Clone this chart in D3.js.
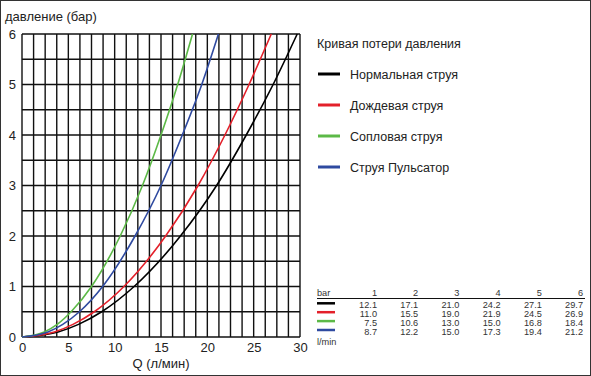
<!DOCTYPE html>
<html lang="ru">
<head>
<meta charset="UTF-8">
<title>Кривая потери давления</title>
<style>
  body { margin: 0; background: #fff; }
  svg text { font-family: "Liberation Sans", Arial, sans-serif; fill: #222; }
  .grid line { stroke: #111; stroke-width: 1.4px; }
  .curve { fill: none; stroke-width: 1.6px; }
  .tick-label { font-size: 13px; }
  .tbl text { font-size: 9.2px; fill: #333; }
</style>
</head>
<body>
<svg id="chart" width="591" height="376"></svg>
<script src="https://d3js.org/d3.v7.min.js"></script>
<script>
// series names and colours
const seriesNames = ["Нормальная струя", "Дождевая струя", "Сопловая струя", "Струя Пульсатор"];
const seriesColors = ["#000000", "#e3202a", "#5cb947", "#2f4aa0"];

// pressure levels (bar) of the table
const pressures = [1, 2, 3, 4, 5, 6];
// flow (l/min) at each pressure, from the table
const flowNormal = [12.1, 17.1, 21.0, 24.2, 27.1, 29.7];
const flowRain   = [11.0, 15.5, 19.0, 21.9, 24.5, 26.9];
const flowNozzle = [7.5, 10.6, 13.0, 15.0, 16.8, 18.4];
const flowPulse  = [8.7, 12.2, 15.0, 17.3, 19.4, 21.2];

// low-pressure part of each curve
const lowPressures = [0, 0.1, 0.25, 0.5];
const lowNormal = [0, 3.9, 6.1, 8.6];
const lowRain   = [0, 3.5, 5.5, 7.8];
const lowNozzle = [0, 2.4, 3.8, 5.3];
const lowPulse  = [0, 2.8, 4.4, 6.2];

const xTicks = [0, 5, 10, 15, 20, 25, 30];
const yTicks = [0, 1, 2, 3, 4, 5, 6];

const flows = [flowNormal, flowRain, flowNozzle, flowPulse];
const lows = [lowNormal, lowRain, lowNozzle, lowPulse];

const svg = d3.select("#chart");
const W = 591, H = 376;

svg.append("rect").attr("x", 0.5).attr("y", 0.5).attr("width", W - 1).attr("height", H - 1)
  .attr("fill", "#fff").attr("stroke", "#333");

const x = d3.scaleLinear().domain([0, 30]).range([22, 300]);
const y = d3.scaleLinear().domain([0, 6]).range([337, 34]);

// grid: vertical every 1.25 l/min, horizontal every 0.5 bar
const grid = svg.append("g").attr("class", "grid");
grid.selectAll(".v").data(d3.range(0, 30.001, 1.25)).join("line")
  .attr("x1", d => x(d)).attr("x2", d => x(d))
  .attr("y1", y(0)).attr("y2", y(6));
grid.selectAll(".h").data(d3.range(0, 6.001, 0.5)).join("line")
  .attr("x1", x(0)).attr("x2", x(30))
  .attr("y1", d => y(d)).attr("y2", d => y(d));

// axes (labels only, no domain path)
const xAxis = svg.append("g").attr("transform", `translate(0,${y(0)})`)
  .call(d3.axisBottom(x).tickValues(xTicks).tickFormat(d3.format("d")).tickSize(0).tickPadding(6));
xAxis.select(".domain").remove();
xAxis.selectAll("text").attr("class", "tick-label").attr("font-size", null).attr("font-family", null);

const yAxis = svg.append("g").attr("transform", `translate(${x(0)},0)`)
  .call(d3.axisLeft(y).tickValues(yTicks).tickFormat(d3.format("d")).tickSize(0).tickPadding(6));
yAxis.select(".domain").remove();
yAxis.selectAll("text").attr("class", "tick-label").attr("font-size", null).attr("font-family", null);

svg.append("text").attr("x", 5).attr("y", 21).attr("font-size", 13).text("давление (бар)");
svg.append("text").attr("x", (x(0) + x(30)) / 2).attr("y", 368).attr("text-anchor", "middle")
  .attr("font-size", 13).text("Q (л/мин)");

// curves
const line = d3.line().x(d => x(d.q)).y(d => y(d.p)).curve(d3.curveMonotoneX);
const plot = svg.append("g");
flows.forEach((fl, i) => {
  const pts = lowPressures.map((p, j) => ({ p, q: lows[i][j] }))
    .concat(pressures.map((p, j) => ({ p, q: fl[j] })));
  plot.append("path").datum(pts).attr("class", "curve")
    .attr("stroke", seriesColors[i]).attr("d", line);
});

// legend
svg.append("text").attr("x", 317).attr("y", 48).attr("font-size", 12.5).text("Кривая потери давления");
const leg = svg.append("g").selectAll("g").data(seriesNames).join("g")
  .attr("transform", (d, i) => `translate(317,${74 + i * 31})`);
leg.append("line").attr("x1", 1).attr("x2", 23).attr("stroke-width", 3)
  .attr("stroke", (d, i) => seriesColors[i]);
leg.append("text").attr("x", 33).attr("y", 4.5).attr("font-size", 12.5).text(d => d);

// table
const colX = d3.scalePoint().domain(pressures).range([377, 583]);
const tbl = svg.append("g").attr("class", "tbl");
tbl.append("text").attr("x", 317).attr("y", 296).text("bar");
tbl.selectAll(".hd").data(pressures).join("text")
  .attr("x", d => colX(d)).attr("y", 296).attr("text-anchor", "end").text(d => d);
tbl.append("line").attr("x1", 317).attr("x2", 585).attr("y1", 298.5).attr("y2", 298.5)
  .attr("stroke", "#111").attr("stroke-width", 1);
flows.forEach((fl, i) => {
  const ry = 303.3 + i * 8.9;
  tbl.append("line").attr("x1", 317).attr("x2", 335).attr("y1", ry).attr("y2", ry)
    .attr("stroke", seriesColors[i]).attr("stroke-width", 2.5);
  tbl.selectAll(".r" + i).data(fl).join("text")
    .attr("x", (d, j) => colX(pressures[j])).attr("y", ry + 5)
    .attr("text-anchor", "end").text(d => d.toFixed(1));
});
tbl.append("text").attr("x", 317).attr("y", 345).text("l/min");
</script>
</body>
</html>
